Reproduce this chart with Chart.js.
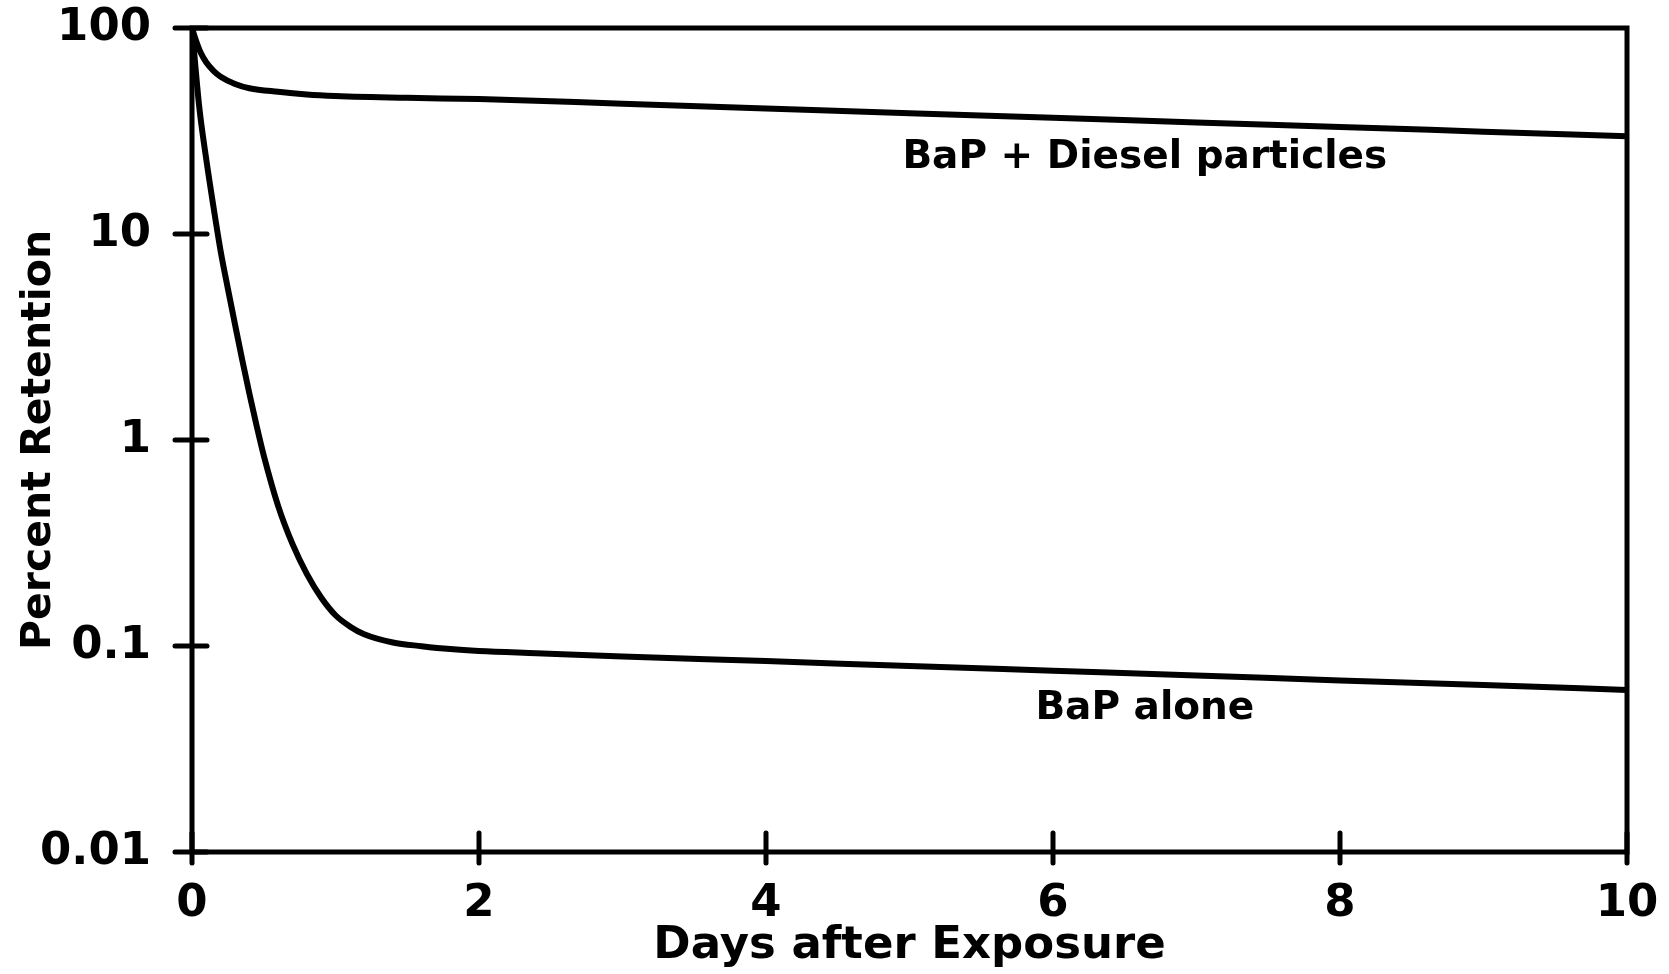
<!DOCTYPE html>
<html>
<head>
<meta charset="utf-8">
<script src="https://cdn.jsdelivr.net/npm/chart.js@4"></script>
<style>
  html, body { margin: 0; padding: 0; background: #fff; }
  canvas { display: block; }
</style>
</head>
<body>
<canvas id="retentionChart" width="1669" height="974"></canvas>
<script>
// days after exposure / percent retention
const dieselDays = [0, 0.03, 0.06, 0.1, 0.15, 0.2, 0.3, 0.4, 0.6, 0.8, 1, 1.5, 2, 3, 4, 5, 6, 7, 8, 9, 10];
const dieselRetention = [100, 86, 76, 68, 62, 58, 53.5, 51, 49, 47.6, 46.8, 45.8, 45.2, 42.9, 40.7, 38.6, 36.7, 34.8, 33.1, 31.4, 29.8];

const aloneDays = [0, 0.05, 0.1, 0.15, 0.2, 0.25, 0.3, 0.35, 0.4, 0.45, 0.5, 0.6, 0.7, 0.8, 0.9, 1, 1.1, 1.2, 1.4, 1.6, 1.8, 2, 2.4, 3, 4, 5, 6, 7, 8, 9, 10];
const aloneRetention = [100, 41.7, 22.9, 13.5, 8.22, 5.43, 3.63, 2.45, 1.68, 1.175, 0.841, 0.479, 0.313, 0.224, 0.172, 0.141, 0.1245, 0.114, 0.104, 0.0998, 0.0966, 0.0946, 0.0923, 0.089, 0.0845, 0.08, 0.0759, 0.072, 0.068, 0.0646, 0.0612];

// axis ticks
const yTickValues = [0.01, 0.1, 1, 10, 100];
const yTickLabels = ['0.01', '0.1', '1', '10', '100'];
const xTickValues = [0, 2, 4, 6, 8, 10];

// curve labels (text, day, percent)
const curveLabels = ['BaP + Diesel particles', 'BaP alone'];
const curveLabelDays = [6.64, 6.64];
const curveLabelValues = [23.5, 0.0495];

const toPoints = (xs, ys) => xs.map((x, i) => ({ x: x, y: ys[i] }));

// box round the plot, ticks crossing the axes, curve labels
const framePlugin = {
  id: 'frame',
  afterDraw(chart) {
    const { ctx, chartArea: a, scales } = chart;
    ctx.save();
    ctx.strokeStyle = '#000';
    ctx.lineWidth = 5;
    ctx.lineCap = 'square';
    ctx.strokeRect(a.left, a.top, a.right - a.left, a.bottom - a.top);

    ctx.lineCap = 'round';
    scales.y.ticks.forEach(t => {
      const py = scales.y.getPixelForValue(t.value);
      ctx.beginPath();
      ctx.moveTo(a.left - 17, py);
      ctx.lineTo(a.left + 15, py);
      ctx.stroke();
    });
    scales.x.ticks.forEach(t => {
      const px = scales.x.getPixelForValue(t.value);
      ctx.beginPath();
      ctx.moveTo(px, a.bottom + 11);
      ctx.lineTo(px, a.bottom - 19);
      ctx.stroke();
    });

    ctx.fillStyle = '#000';
    ctx.font = 'bold 39px "DejaVu Sans"';
    ctx.textAlign = 'center';
    ctx.textBaseline = 'middle';
    curveLabels.forEach((txt, i) => {
      ctx.fillText(txt, scales.x.getPixelForValue(curveLabelDays[i]), scales.y.getPixelForValue(curveLabelValues[i]));
    });
    ctx.restore();
  }
};

const ctx = document.getElementById('retentionChart').getContext('2d');

new Chart(ctx, {
  type: 'line',
  data: {
    datasets: [
      {
        label: 'BaP + Diesel particles',
        data: toPoints(dieselDays, dieselRetention),
        borderColor: '#000',
        borderWidth: 6,
        pointRadius: 0,
        cubicInterpolationMode: 'monotone',
        fill: false
      },
      {
        label: 'BaP alone',
        data: toPoints(aloneDays, aloneRetention),
        borderColor: '#000',
        borderWidth: 6,
        pointRadius: 0,
        cubicInterpolationMode: 'monotone',
        fill: false
      }
    ]
  },
  options: {
    responsive: false,
    devicePixelRatio: 1,
    animation: false,
    layout: { padding: { top: 28, right: 42, left: 0, bottom: 0 } },
    plugins: {
      legend: { display: false },
      tooltip: { enabled: false }
    },
    scales: {
      x: {
        type: 'linear',
        min: 0,
        max: 10,
        afterBuildTicks: scale => { scale.ticks = xTickValues.map(v => ({ value: v })); },
        afterFit: scale => {
          scale.height = 122;
          scale.paddingLeft = 0;
          scale.paddingRight = 0;
        },
        grid: { display: false, drawTicks: false },
        border: { display: false },
        ticks: {
          color: '#000',
          padding: 25,
          font: { family: 'DejaVu Sans', size: 45, weight: 'bold' },
          maxRotation: 0
        },
        title: {
          display: true,
          text: 'Days after Exposure',
          color: '#000',
          font: { family: 'DejaVu Sans', size: 45, weight: 'bold' },
          padding: { top: 0, bottom: 1 }
        }
      },
      y: {
        type: 'logarithmic',
        min: 0.01,
        max: 100,
        afterBuildTicks: scale => { scale.ticks = yTickValues.map(v => ({ value: v })); },
        afterFit: scale => {
          scale.width = 192;
          scale.paddingTop = 0;
          scale.paddingBottom = 0;
        },
        grid: { display: false, drawTicks: false },
        border: { display: false },
        ticks: {
          color: '#000',
          padding: 41,
          font: { family: 'DejaVu Sans', size: 45, weight: 'bold' },
          callback: function(value) {
            const i = yTickValues.indexOf(value);
            return i >= 0 ? yTickLabels[i] : '';
          }
        },
        title: {
          display: true,
          text: 'Percent Retention',
          color: '#000',
          font: { family: 'DejaVu Sans', size: 41, weight: 'bold' },
          padding: { top: 15, bottom: 0 }
        }
      }
    }
  },
  plugins: [framePlugin]
});
</script>
</body>
</html>
